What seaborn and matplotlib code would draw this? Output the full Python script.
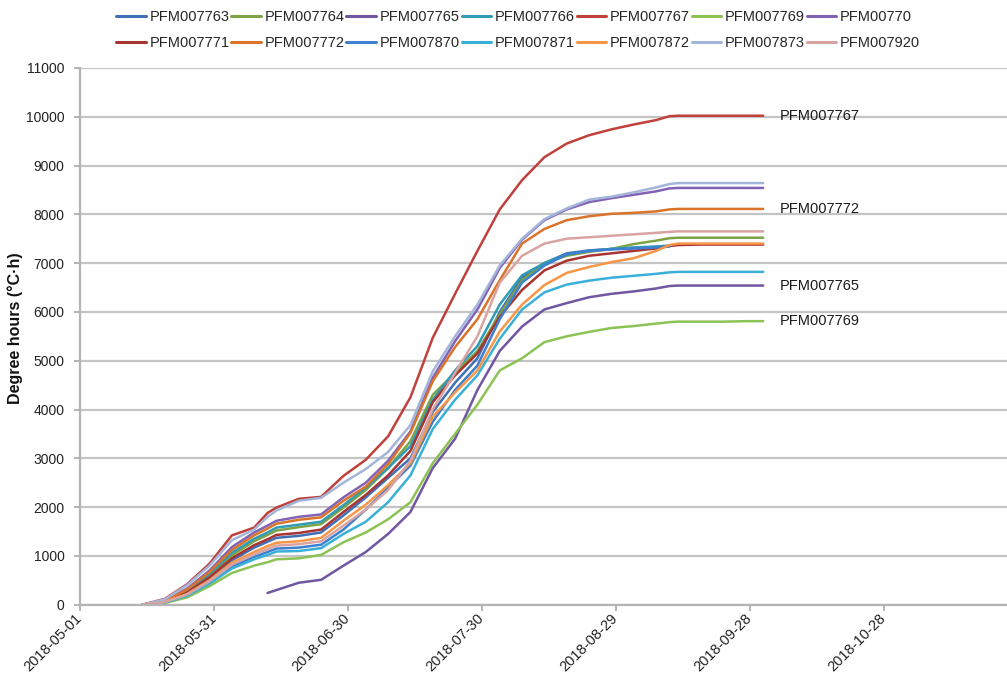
import pandas as pd
import matplotlib
matplotlib.use("Agg")
import matplotlib.pyplot as plt
import matplotlib.dates as mdates
from matplotlib.lines import Line2D
import seaborn as sns

# Sampling days, counted from 2018-05-01
start = pd.Timestamp("2018-05-01")
day_offsets = [14, 19, 24, 29, 34, 39, 42, 44, 49, 54, 59, 64, 69, 74, 79, 84,
               89, 94, 99, 104, 109, 114, 119, 124, 129, 132, 134, 139, 144, 149, 153]

# Cumulative degree hours (°C·h) per logger
PFM007763 = [0, 65, 240, 530, 910, 1170, 1290, 1370, 1410, 1480, 1830, 2200, 2600, 3000, 3950, 4550,
             5050, 6000, 6700, 7000, 7200, 7260, 7290, 7310, 7330, 7350, None, None, None, None, None]
PFM007764 = [0, 75, 270, 600, 1010, 1300, 1430, 1520, 1590, 1650, 1990, 2350, 2800, 3350, 4300, 4750,
             5200, 5950, 6650, 7000, 7150, 7230, 7290, 7390, 7460, 7510, 7520, 7520, 7520, 7520, 7520]
PFM007765 = [None, None, None, None, None, None, 240, 300, 450, 510, 800, 1080, 1450, 1900, 2800, 3400,
             4400, 5200, 5700, 6050, 6180, 6300, 6370, 6420, 6480, 6530, 6540, 6540, 6540, 6540, 6540]
PFM007766 = [0, 80, 290, 630, 1060, 1350, 1480, 1580, 1640, 1700, 2040, 2400, 2800, 3250, 4200, 4800,
             5300, 6150, 6750, 7000, 7180, 7250, 7290, 7320, 7340, 7360, None, None, None, None, None]
PFM007767 = [0, 120, 420, 840, 1420, 1580, 1880, 1990, 2170, 2210, 2640, 2970, 3450, 4250, 5470, 6370,
             7250, 8100, 8700, 9170, 9450, 9620, 9740, 9840, 9930, 10010, 10020, 10020, 10020, 10020, 10020]
PFM007769 = [0, 35, 150, 380, 650, 800, 870, 930, 950, 1020, 1280, 1480, 1750, 2100, 2900, 3500,
             4100, 4800, 5050, 5380, 5500, 5590, 5670, 5710, 5760, 5790, 5800, 5800, 5800, 5810, 5810]
PFM00770 = [0, 90, 330, 700, 1180, 1480, 1620, 1720, 1800, 1850, 2200, 2500, 2950, 3550, 4650, 5400,
            6050, 6900, 7480, 7880, 8100, 8250, 8330, 8400, 8470, 8530, 8540, 8540, 8540, 8540, 8540]
PFM007771 = [0, 70, 250, 560, 950, 1220, 1340, 1430, 1470, 1540, 1900, 2250, 2650, 3150, 4150, 4700,
             5150, 5900, 6450, 6850, 7050, 7150, 7200, 7250, 7300, 7350, 7370, 7380, 7380, 7380, 7380]
PFM007772 = [0, 85, 310, 670, 1120, 1420, 1560, 1660, 1740, 1790, 2130, 2420, 2880, 3520, 4580, 5280,
             5850, 6650, 7400, 7700, 7880, 7960, 8010, 8030, 8060, 8100, 8110, 8110, 8110, 8110, 8110]
PFM007870 = [0, 50, 200, 460, 780, 980, 1080, 1150, 1170, 1230, 1540, 1950, 2400, 2850, 3750, 4400,
             4900, 5850, 6600, 6950, 7180, 7250, 7280, 7300, 7320, 7340, None, None, None, None, None]
PFM007871 = [0, 45, 185, 430, 740, 930, 1020, 1090, 1100, 1160, 1450, 1700, 2100, 2650, 3600, 4200,
             4700, 5450, 6050, 6400, 6560, 6640, 6700, 6740, 6780, 6810, 6820, 6820, 6820, 6820, 6820]
PFM007872 = [0, 60, 220, 500, 860, 1080, 1200, 1270, 1300, 1370, 1720, 2050, 2450, 2900, 3850, 4350,
             4800, 5600, 6150, 6550, 6800, 6920, 7020, 7100, 7250, 7370, 7400, 7400, 7400, 7400, 7400]
PFM007873 = [0, 110, 400, 800, 1320, 1540, 1800, 1930, 2130, 2190, 2500, 2780, 3130, 3680, 4780, 5500,
             6150, 6950, 7500, 7900, 8120, 8300, 8360, 8450, 8550, 8620, 8640, 8640, 8640, 8640, 8640]
PFM007920 = [0, 55, 210, 480, 820, 1030, 1140, 1210, 1240, 1300, 1620, 1950, 2350, 2950, 4000, 4750,
             5500, 6600, 7150, 7400, 7500, 7530, 7560, 7590, 7620, 7640, 7650, 7650, 7650, 7650, 7650]

series_names = ["PFM007763", "PFM007764", "PFM007765", "PFM007766", "PFM007767", "PFM007769", "PFM00770",
                "PFM007771", "PFM007772", "PFM007870", "PFM007871", "PFM007872", "PFM007873", "PFM007920"]
series_values = [PFM007763, PFM007764, PFM007765, PFM007766, PFM007767, PFM007769, PFM00770,
                 PFM007771, PFM007772, PFM007870, PFM007871, PFM007872, PFM007873, PFM007920]
colors = ["#3f6fb5", "#7ea345", "#7156a2", "#2f9bb5", "#c0403c", "#8dc255", "#8262b4",
          "#a83431", "#d9742a", "#3d7fd0", "#3ab0d8", "#f79646", "#a3b6da", "#d9a3a1"]
labelled = ["PFM007767", "PFM007772", "PFM007765", "PFM007769"]

tick_dates = ["2018-05-01", "2018-05-31", "2018-06-30", "2018-07-30", "2018-08-29", "2018-09-28", "2018-10-28"]
y_ticks = list(range(0, 11001, 1000))

dates = [start + pd.Timedelta(days=d) for d in day_offsets]
frames = []
for name, vals in zip(series_names, series_values):
    frames.append(pd.DataFrame({"date": dates, "dh": vals, "series": name}))
df = pd.concat(frames, ignore_index=True).dropna()
df["dh"] = df["dh"].astype(float)
palette = dict(zip(series_names, colors))

sns.set_theme(style="white")
plt.rcParams["font.family"] = ["Liberation Sans", "DejaVu Sans"]

W, H = 1007, 677
fig = plt.figure(figsize=(W / 100, H / 100), dpi=100)
x0, x1, y_bot, y_top = 80, 1007, 604.7, 67.9
ax = fig.add_axes([x0 / W, (H - y_bot) / H, (x1 - x0) / W, (y_bot - y_top) / H])
ax.set_axisbelow(True)

sns.lineplot(data=df, x="date", y="dh", hue="series", hue_order=series_names,
             palette=palette, estimator=None, sort=False, linewidth=1.8,
             legend=False, ax=ax)

ax.set_ylim(0, 11000)
ax.set_yticks(y_ticks)
ax.set_xlim(start, start + pd.Timedelta(days=207.6))
ax.set_xticks([pd.Timestamp(t) for t in tick_dates])
ax.xaxis.set_major_formatter(mdates.DateFormatter("%Y-%m-%d"))

ax.yaxis.grid(True, color="#c4c4c4", linewidth=1.6)
ax.xaxis.grid(False)
for side in ("top", "right"):
    ax.spines[side].set_visible(False)
for side in ("left", "bottom"):
    ax.spines[side].set_color("#b4b4b4")
    ax.spines[side].set_linewidth(1.6)

ax.tick_params(axis="y", left=True, direction="out", length=4, width=1.2,
               color="#a8a8a8", labelsize=10, labelcolor="#222222", pad=7)
ax.tick_params(axis="x", bottom=True, direction="out", length=4, width=1.2,
               color="#a8a8a8", labelsize=10.5, labelcolor="#222222", pad=4)
for lbl in ax.get_xticklabels():
    lbl.set_rotation(45)
    lbl.set_ha("right")
    lbl.set_va("center")
    lbl.set_rotation_mode("anchor")

ax.set_xlabel("")
ax.set_ylabel("Degree hours (°C·h)", fontsize=11.5, fontweight="bold", color="#111111")
ax.yaxis.set_label_coords(-0.062, 0.515)

# Names written next to the end of selected curves
for name in labelled:
    vals = series_values[series_names.index(name)]
    ax.annotate(name, xy=(dates[-1], vals[-1]), xytext=(12, 0), textcoords="offset points",
                va="center", ha="left", fontsize=10.5, color="#1a1a1a")

# Two-row legend filled row by row
handles = [Line2D([0], [0], color=c, lw=2.2) for c in colors]
row1, row2 = list(range(7)), list(range(7, 14))
order = [i for pair in zip(row1, row2) for i in pair]
fig.legend([handles[i] for i in order], [series_names[i] for i in order],
           ncol=7, loc="center", bbox_to_anchor=(518 / W, 1 - 30 / H),
           frameon=False, fontsize=10.5, handlelength=2.05, handletextpad=0.2,
           columnspacing=0.15, labelspacing=0.8, borderaxespad=0, borderpad=0)

fig.savefig("out.png", dpi=100)
